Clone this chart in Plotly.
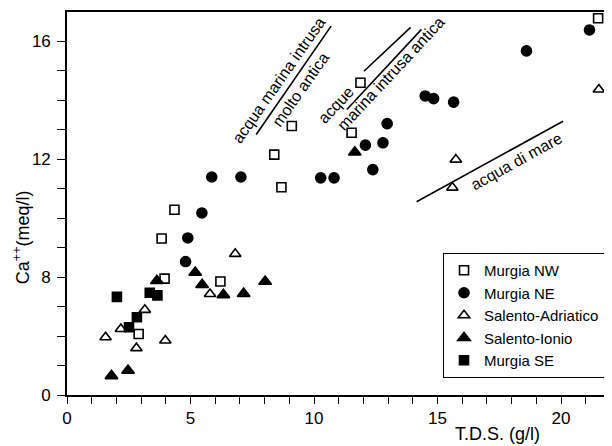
import plotly.graph_objects as go

# ---- data (T.D.S. g/l, Ca++ meq/l) ----
nw_x = [21.5, 11.88, 9.10, 11.52, 8.39, 8.68, 4.35, 3.83, 3.95, 6.21, 2.90]
nw_y = [16.79, 14.60, 13.13, 12.90, 12.16, 11.05, 10.29, 9.31, 7.95, 7.85, 6.07]

ne_x = [21.15, 18.6, 14.5, 14.84, 15.65, 12.96, 12.08, 12.79, 12.38, 10.27, 10.81,
        5.86, 7.04, 5.46, 4.89, 4.80]
ne_y = [16.39, 15.68, 14.15, 14.06, 13.94, 13.21, 12.48, 12.56, 11.65, 11.37, 11.37,
        11.40, 11.40, 10.18, 9.33, 8.53]

sa_x = [21.53, 15.74, 15.60, 6.81, 5.79, 3.15, 2.18, 1.56, 3.98, 2.81]
sa_y = [14.37, 11.99, 11.04, 8.79, 7.43, 6.89, 6.24, 5.96, 5.85, 5.59]

si_x = [11.65, 5.19, 5.47, 6.33, 7.15, 8.02, 3.64, 1.80, 2.47]
si_y = [12.24, 8.16, 7.74, 7.40, 7.44, 7.85, 7.88, 4.65, 4.83]

se_x = [2.02, 3.35, 3.66, 2.83, 2.51]
se_y = [7.33, 7.47, 7.38, 6.64, 6.30]

series_names = ["Murgia NW", "Murgia NE", "Salento-Adriatico", "Salento-Ionio", "Murgia SE"]

# reference lines (x0, y0, x1, y1)
ref_lines = [
    (7.66, 12.84, 10.69, 16.52),
    (11.33, 13.69, 14.35, 16.41),
    (12.02, 14.99, 13.91, 16.48),
    (14.15, 10.56, 20.08, 13.29),
]
# labels: text, x, y, angle
ref_labels = [
    ("acqua marina intrusa", 8.60, 14.70, -55),
    ("molto antica", 9.45, 14.38, -55),
    ("acque", 10.90, 13.86, -47),
    ("marina intrusa antica", 13.12, 14.90, -47),
    ("acqua di mare", 18.19, 11.91, -29),
]

x_tickvals = list(range(0, 22))
x_ticktext = [str(v) if v % 5 == 0 else "" for v in x_tickvals]
y_tickvals = list(range(4, 17))
y_label_map = {4: "0", 8: "8", 12: "12", 16: "16"}
y_ticktext = [y_label_map.get(v, "") for v in y_tickvals]

FONT = "Liberation Sans, Arial, Helvetica, sans-serif"

# plot area (figure px): x 59..602, y 4..387 (page has 8px body margin)
PL, PR, PT, PB = 59, 602, 4, 387
PW, PH = PR - PL, PB - PT

fig = go.Figure()
styles = [
    (nw_x, nw_y, "square-open", 9),
    (ne_x, ne_y, "circle", 10),
    (sa_x, sa_y, "triangle-up-open", 10),
    (si_x, si_y, "triangle-up", 11),
    (se_x, se_y, "square", 9),
]
for name, (xs, ys, sym, sz) in zip(series_names, styles):
    fig.add_trace(go.Scatter(
        x=xs, y=ys, mode="markers", name=name,
        marker=dict(symbol=sym, size=sz, color="black",
                    line=dict(color="black", width=1.6)),
    ))

for (x0, y0, x1, y1) in ref_lines:
    fig.add_shape(type="line", x0=x0, y0=y0, x1=x1, y1=y1,
                  line=dict(color="black", width=1.6))

for (t, x, y, a) in ref_labels:
    fig.add_annotation(x=x, y=y, text=t, textangle=a, showarrow=False,
                       xanchor="center", yanchor="middle",
                       font=dict(family=FONT, size=16, color="black"))

# axis titles (page px -> figure px: minus 8)
fig.add_annotation(xref="paper", yref="paper",
                   x=(499 - 8 - PL) / PW, y=(PB - (434 - 8)) / PH,
                   xanchor="center", yanchor="middle",
                   text="T.D.S. (g/l)", showarrow=False,
                   font=dict(family=FONT, size=18, color="black"))
fig.add_annotation(xref="paper", yref="paper",
                   x=(22 - 8 - PL) / PW, y=(PB - (237 - 8)) / PH,
                   xanchor="center", yanchor="middle",
                   text="Ca<sup>++</sup>(meq/l)", textangle=-90, showarrow=False,
                   font=dict(family=FONT, size=18, color="black"))

axis_common = dict(showgrid=False, zeroline=False, showline=True, linecolor="black",
                   linewidth=1.6, mirror=True, ticks="outside",
                   tickwidth=1.4, tickcolor="black",
                   tickfont=dict(family=FONT, size=17, color="black"))

fig.update_layout(
    width=604, height=438,
    margin=dict(l=PL, r=604 - PR, t=PT, b=438 - PB),
    paper_bgcolor="white", plot_bgcolor="white",
    font=dict(family=FONT, color="black"),
    xaxis=dict(range=[0, 21.9], tickmode="array", tickvals=x_tickvals,
               ticktext=x_ticktext, ticklen=7, **axis_common),
    yaxis=dict(range=[4, 17], tickmode="array", tickvals=y_tickvals,
               ticktext=y_ticktext, ticklen=8, ticklabelstandoff=3, **axis_common),
    legend=dict(x=(607 - 8 - PL) / PW, y=(PB - (378 - 8)) / PH,
                xanchor="right", yanchor="bottom",
                bordercolor="black", borderwidth=1, bgcolor="white",
                font=dict(family=FONT, size=15, color="black"),
                tracegroupgap=0, itemwidth=30),
    showlegend=True,
)

fig.write_html("out.html")
